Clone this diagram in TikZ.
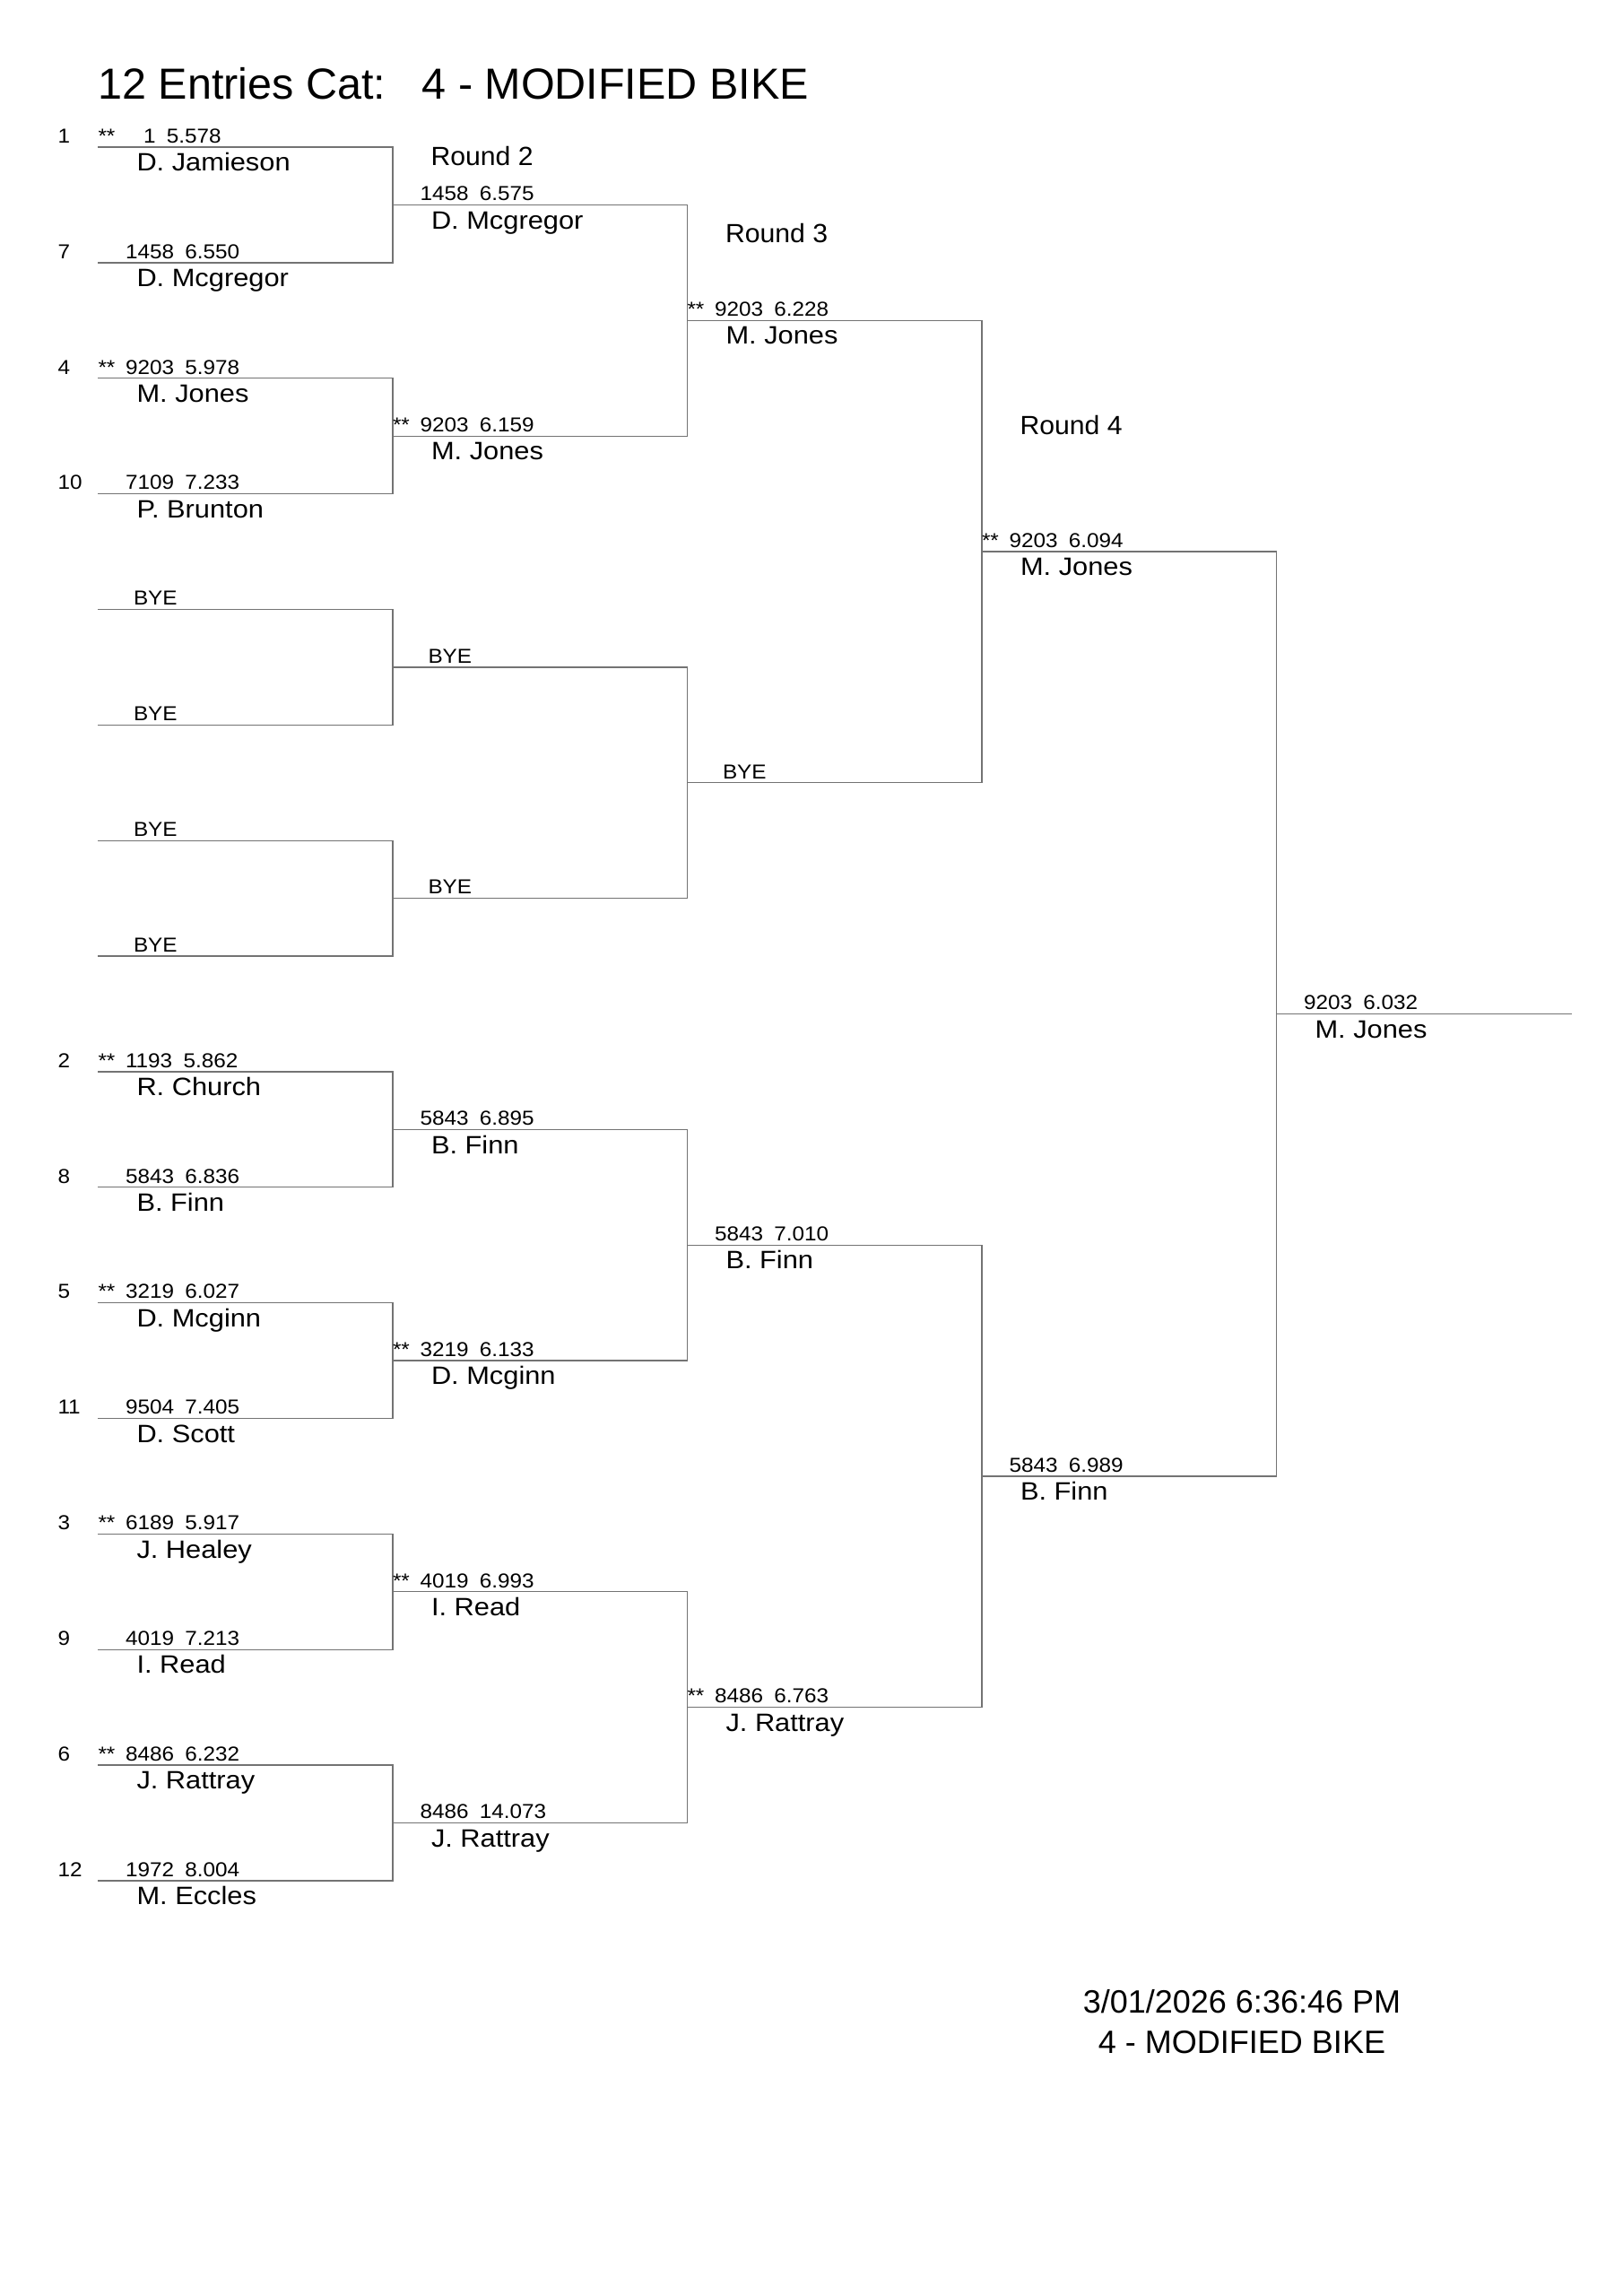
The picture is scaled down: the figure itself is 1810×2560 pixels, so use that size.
\documentclass[tikz,border=0pt]{standalone}
\usepackage{fontspec}
\setmainfont{Liberation Sans}
\newfontfamily\scorefont{Liberation Sans}[FakeStretch=1.08]
\newfontfamily\namefont{Liberation Sans}[FakeStretch=1.1]
\newfontfamily\roundfont{Liberation Sans}[FakeStretch=1.03]
\tikzset{
  bkline/.style={draw=black!55, line width=1.3pt, line cap=rect},
  scoretxt/.style={font=\scorefont\fontsize{22.5}{27}\selectfont, anchor=base west, inner sep=0pt, outer sep=0pt},
  seedtxt/.style={font=\scorefont\fontsize{22.5}{27}\selectfont, anchor=base west, inner sep=0pt, outer sep=0pt},
  plname/.style={font=\namefont\fontsize{28}{33}\selectfont, anchor=base west, inner sep=0pt, outer sep=0pt},
  roundtxt/.style={font=\roundfont\fontsize{29.3}{35}\selectfont, anchor=base west, inner sep=0pt, outer sep=0pt},
  titletxt/.style={font=\fontsize{48.5}{58}\selectfont, anchor=base west, inner sep=0pt, outer sep=0pt},
  datetxt/.style={font=\fontsize{36}{43}\selectfont, anchor=base, inner sep=0pt, outer sep=0pt}
}
% k j numoffset num time name
\newcommand\bkentry[6]{%
  \node[scoretxt] (sc-#1-#2) at ([xshift=#3pt,yshift=4.7pt]L-#1-#2) {#4\hspace{12.3pt}#5};
  \node[plname] (nm-#1-#2) at ([xshift=43pt,yshift=-26.7pt]L-#1-#2) {#6};
}
\newcommand\bkstar[2]{\node[scoretxt] (st-#1-#2) at ([yshift=4.7pt]L-#1-#2) {**};}
\newcommand\bkbye[2]{\node[scoretxt] (bye-#1-#2) at ([xshift=39.5pt,yshift=4.7pt]L-#1-#2) {BYE};}
\newcommand\bkseed[2]{\node[seedtxt] (seed-#1) at ([xshift=-45pt,yshift=4.7pt]L-1-#1) {#2};}
\begin{document}
\begin{tikzpicture}[x=1pt,y=-1pt]
\fill[white] (0,0) rectangle (1810,2560);
\useasboundingbox (0,0) rectangle (1810,2560);

% bracket lines
\foreach \k in {1,...,5}{
  \pgfmathtruncatemacro\bkn{2^(5-\k)}
  \pgfmathtruncatemacro\bklast{\bkn-1}
  \pgfmathsetmacro\bksp{2^(\k-1)}
  \pgfmathsetmacro\bkxl{109.5+328.5*(\k-1)}
  \pgfmathsetmacro\bkxr{109.5+328.5*\k}
  \foreach \j in {0,...,\bklast}{
    \pgfmathsetmacro\bky{164+128.86*(\bksp*\j+(\bksp-1)/2)}
    \coordinate (L-\k-\j) at (\bkxl,\bky);
    \coordinate (R-\k-\j) at (\bkxr,\bky);
    \draw[bkline] (L-\k-\j) -- (R-\k-\j);
  }
}
\foreach \k/\m in {1/7,2/3,3/1,4/0}{
  \foreach \i in {0,...,\m}{
    \pgfmathtruncatemacro\bkua{2*\i}
    \pgfmathtruncatemacro\bkub{2*\i+1}
    \draw[bkline] (R-\k-\bkua) -- (R-\k-\bkub);
  }
}

% title
\node[titletxt] (title) at (109.5,110) {12 Entries Cat:\ \ \ 4 - MODIFIED BIKE};

% round labels
\node[roundtxt] (round2) at ([xshift=42.5pt,yshift=43.6pt]L-2-0) {Round 2};
\node[roundtxt] (round3) at ([xshift=42.5pt,yshift=87.2pt]L-3-0) {Round 3};
\node[roundtxt] (round4) at ([xshift=42.5pt,yshift=130.8pt]L-4-0) {Round 4};

% round 1
\bkseed{0}{1}  \bkstar{1}{0} \bkentry{1}{0}{50.6}{1}{5.578}{D. Jamieson}
\bkseed{1}{7}                \bkentry{1}{1}{30.5}{1458}{6.550}{D. Mcgregor}
\bkseed{2}{4}  \bkstar{1}{2} \bkentry{1}{2}{30.5}{9203}{5.978}{M. Jones}
\bkseed{3}{10}               \bkentry{1}{3}{30.5}{7109}{7.233}{P. Brunton}
\bkbye{1}{4}
\bkbye{1}{5}
\bkbye{1}{6}
\bkbye{1}{7}
\bkseed{8}{2}  \bkstar{1}{8}  \bkentry{1}{8}{30.5}{1193}{5.862}{R. Church}
\bkseed{9}{8}                 \bkentry{1}{9}{30.5}{5843}{6.836}{B. Finn}
\bkseed{10}{5} \bkstar{1}{10} \bkentry{1}{10}{30.5}{3219}{6.027}{D. Mcginn}
\bkseed{11}{11}               \bkentry{1}{11}{30.5}{9504}{7.405}{D. Scott}
\bkseed{12}{3} \bkstar{1}{12} \bkentry{1}{12}{30.5}{6189}{5.917}{J. Healey}
\bkseed{13}{9}                \bkentry{1}{13}{30.5}{4019}{7.213}{I. Read}
\bkseed{14}{6} \bkstar{1}{14} \bkentry{1}{14}{30.5}{8486}{6.232}{J. Rattray}
\bkseed{15}{12}               \bkentry{1}{15}{30.5}{1972}{8.004}{M. Eccles}

% round 2
\bkentry{2}{0}{30.5}{1458}{6.575}{D. Mcgregor}
\bkstar{2}{1} \bkentry{2}{1}{30.5}{9203}{6.159}{M. Jones}
\bkbye{2}{2}
\bkbye{2}{3}
\bkentry{2}{4}{30.5}{5843}{6.895}{B. Finn}
\bkstar{2}{5} \bkentry{2}{5}{30.5}{3219}{6.133}{D. Mcginn}
\bkstar{2}{6} \bkentry{2}{6}{30.5}{4019}{6.993}{I. Read}
\bkentry{2}{7}{30.5}{8486}{14.073}{J. Rattray}

% round 3
\bkstar{3}{0} \bkentry{3}{0}{30.5}{9203}{6.228}{M. Jones}
\bkbye{3}{1}
\bkentry{3}{2}{30.5}{5843}{7.010}{B. Finn}
\bkstar{3}{3} \bkentry{3}{3}{30.5}{8486}{6.763}{J. Rattray}

% round 4
\bkstar{4}{0} \bkentry{4}{0}{30.5}{9203}{6.094}{M. Jones}
\bkentry{4}{1}{30.5}{5843}{6.989}{B. Finn}

% final
\bkentry{5}{0}{30.5}{9203}{6.032}{M. Jones}

% footer
\node[datetxt] (date) at (1385,2244.3) {3/01/2026 6:36:46 PM};
\node[datetxt] (cat) at (1385,2289) {4 - MODIFIED BIKE};
\end{tikzpicture}
\end{document}
